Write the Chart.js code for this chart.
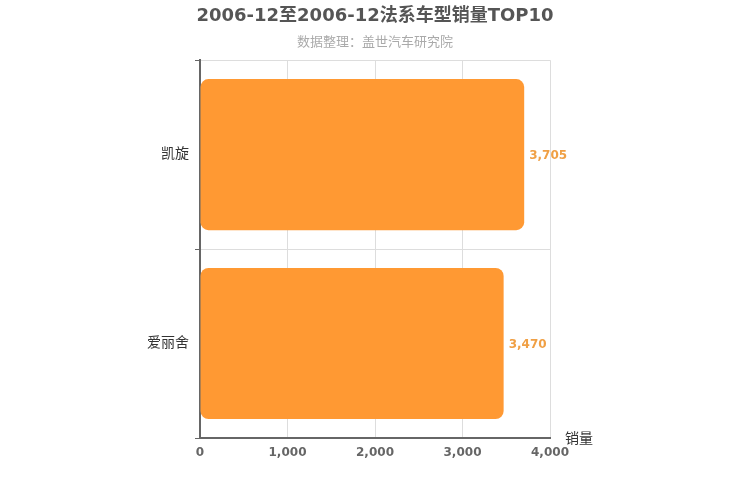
<!DOCTYPE html>
<html>
<head>
<meta charset="utf-8">
<script src="https://cdn.jsdelivr.net/npm/chart.js@4"></script>
<style>
html,body{margin:0;padding:0;background:#fff;}
#wrap{width:750px;height:500px;}
</style>
</head>
<body>
<div id="wrap"><canvas id="c" width="750" height="500"></canvas></div>
<script>
const categories = ['凯旋', '爱丽舍'];
const salesValues = [3705, 3470];
const xTicks = [0, 1000, 2000, 3000, 4000];
const titleText = '2006-12至2006-12法系车型销量TOP10';
const subtitleText = '数据整理：盖世汽车研究院';
const axisTitle = '销量';

const FONT = "'DejaVu Sans', 'Noto Sans CJK SC', sans-serif";

const valueLabels = {
  id: 'valueLabels',
  afterDatasetsDraw(chart) {
    const ctx = chart.ctx;
    const meta = chart.getDatasetMeta(0);
    ctx.save();
    ctx.font = 'bold 12px ' + FONT;
    ctx.fillStyle = '#f0a045';
    ctx.textAlign = 'left';
    ctx.textBaseline = 'middle';
    meta.data.forEach((bar, i) => {
      ctx.fillText(salesValues[i].toLocaleString('en-US'), bar.x + 5, bar.y + 1);
    });
    ctx.restore();
  }
};
const axisTitlePlugin = {
  id: 'axisTitlePlugin',
  afterDraw(chart) {
    const ctx = chart.ctx;
    const a = chart.chartArea;
    ctx.save();
    ctx.font = '14px ' + FONT;
    ctx.fillStyle = '#333';
    ctx.textAlign = 'left';
    ctx.textBaseline = 'middle';
    ctx.fillText(axisTitle, a.right + 15, a.bottom + 1);
    ctx.restore();
  }
};

new Chart(document.getElementById('c'), {
  type: 'bar',
  data: {
    labels: categories,
    datasets: [{
      data: salesValues,
      backgroundColor: '#ff9933',
      borderRadius: 8,
      borderSkipped: false,
      categoryPercentage: 1,
      barPercentage: 0.8
    }]
  },
  options: {
    indexAxis: 'y',
    responsive: false,
    animation: false,
    devicePixelRatio: 1,
    layout: { padding: 0 },
    plugins: {
      legend: { display: false },
      tooltip: { enabled: false },
      title: {
        display: true,
        text: titleText,
        color: '#555',
        font: { family: FONT, size: 18, weight: 'bold' },
        padding: { top: 6, bottom: 4 }
      },
      subtitle: {
        display: true,
        text: subtitleText,
        color: '#aaa',
        font: { family: FONT, size: 13 },
        padding: { top: 3, bottom: 10 }
      }
    },
    scales: {
      x: {
        min: 0,
        max: 4000,
        afterBuildTicks(scale) { scale.ticks = xTicks.map(v => ({ value: v })); },
        afterFit(scale) { scale.height = 62; },
        grid: { color: '#ddd', drawTicks: false },
        border: { color: '#666', width: 2 },
        ticks: {
          color: '#666',
          padding: 8,
          font: { family: FONT, size: 12, weight: 'bold' },
          callback: v => v.toLocaleString('en-US')
        }
      },
      y: {
        afterFit(scale) { scale.width = 200; },
        grid: { color: '#ddd', tickColor: '#666', tickLength: 5, offset: true },
        border: { color: '#666', width: 2 },
        ticks: {
          color: '#333',
          padding: 6,
          font: { family: FONT, size: 14 }
        }
      },
      rightSpace: {
        type: 'linear',
        position: 'right',
        display: true,
        afterFit(scale) { scale.width = 200; },
        grid: { display: false },
        border: { display: false },
        ticks: { display: false }
      }
    }
  },
  plugins: [valueLabels, axisTitlePlugin]
});
</script>
</body>
</html>
